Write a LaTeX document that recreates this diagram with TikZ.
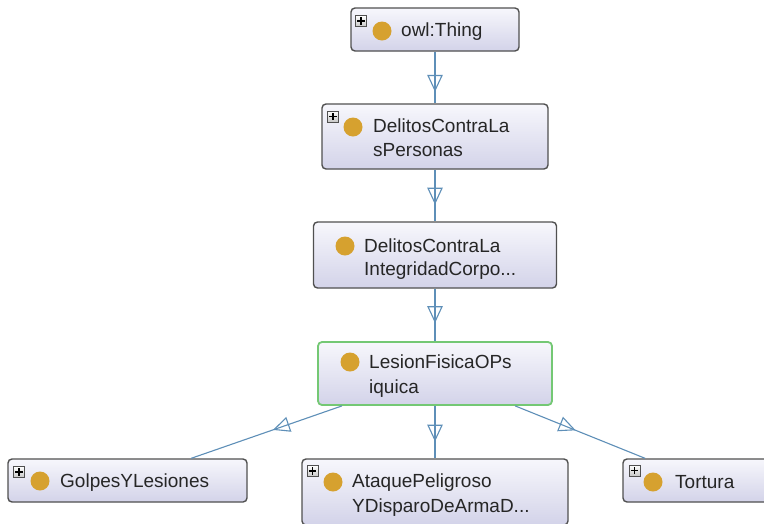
\documentclass[tikz,border=0pt]{standalone}
\usepackage{fontspec}
\setmainfont{Liberation Sans}
\usetikzlibrary{decorations.markings}

\definecolor{edgeblue}{HTML}{5E8FB8}
\definecolor{boxline}{HTML}{505050}
\definecolor{boxtop}{HTML}{F7F7FC}
\definecolor{boxbot}{HTML}{D3D3E9}
\definecolor{selgreen}{HTML}{74C874}
\definecolor{dotgold}{HTML}{D6A12F}
\definecolor{labelgray}{HTML}{262626}

\tikzset{
  classbox/.style={draw=boxline, line width=1.4pt, rounded corners=4pt,
    top color=boxtop, bottom color=boxbot, inner sep=0pt},
  selected/.style={draw=selgreen, line width=1.8pt},
  classdot/.style={circle, fill=dotgold, minimum size=19pt, inner sep=0pt},
  classlabel/.style={anchor=base west, inner sep=0pt,
    font=\fontsize{19}{24}\selectfont, text=labelgray},
  expander/.style={draw=boxline, line width=0.7pt, top color=white,
    bottom color=black!22, minimum size=11pt, inner sep=0pt,
    path picture={
      \draw[line width=1.3pt, black]
        ([xshift=-3.6pt]path picture bounding box.center) --
        ([xshift=3.6pt]path picture bounding box.center);
      \draw[line width=1.3pt, black]
        ([yshift=-3.6pt]path picture bounding box.center) --
        ([yshift=3.6pt]path picture bounding box.center);
    }},
  subedge/.style={draw=edgeblue, line width=1.1pt},
  % open triangle centred on the middle of a centre-to-centre path
  subtip/.style={postaction={decorate}, decoration={markings,
    mark=at position 0.5 with {
      \draw[edgeblue, line width=1.1pt, line join=miter]
        (7.5pt,0pt) -- (-7.5pt,7pt) -- (-7.5pt,-7pt) -- cycle;}}},
}

\begin{document}
\begin{tikzpicture}[x=1pt, y=-1pt]
  \path[use as bounding box] (0,0) rectangle (764,523);
  \clip (0,0) rectangle (764,523);
  \fill[white] (0,0) rectangle (764,523);

  % class boxes
  \node[classbox, minimum width=168pt, minimum height=43pt] (thing) at (435,29.5) {};
  \node[classbox, minimum width=226pt, minimum height=65pt] (personas) at (435,136.5) {};
  \node[classbox, minimum width=243pt, minimum height=66pt] (integridad) at (435,255) {};
  \node[classbox, selected, minimum width=234pt, minimum height=63pt] (lesion) at (435,373.5) {};
  \node[classbox, minimum width=239pt, minimum height=43pt] (golpes) at (127.5,480.5) {};
  \node[classbox, minimum width=266pt, minimum height=66pt] (ataque) at (435,492) {};
  \node[classbox, minimum width=154pt, minimum height=43pt] (tortura) at (700,480.5) {};

  % expand markers
  \node[expander] (xthing) at (361,21) {};
  \node[expander] (xpersonas) at (333,116.5) {};
  \node[expander] (xgolpes) at (19,472) {};
  \node[expander] (xataque) at (312.5,471) {};
  \node[expander] (xtortura) at (634.5,470.5) {};

  % class icons
  \node[classdot] (dthing) at (382,31) {};
  \node[classdot] (dpersonas) at (353,127) {};
  \node[classdot] (dintegridad) at (345,246) {};
  \node[classdot] (dlesion) at (350,362) {};
  \node[classdot] (dgolpes) at (40,481) {};
  \node[classdot] (dataque) at (333,482) {};
  \node[classdot] (dtortura) at (653,482) {};

  % labels
  \node[classlabel] (lthing) at (401,36) {owl:Thing};
  \node[classlabel] (lpersonasA) at (373,132) {DelitosContraLa};
  \node[classlabel] (lpersonasB) at (373,156) {sPersonas};
  \node[classlabel] (lintegridadA) at (364,252) {DelitosContraLa};
  \node[classlabel] (lintegridadB) at (364,275.5) {IntegridadCorpo...};
  \node[classlabel] (llesionA) at (369,368) {LesionFisicaOPs};
  \node[classlabel] (llesionB) at (369,393) {iquica};
  \node[classlabel] (lgolpes) at (60,487) {GolpesYLesiones};
  \node[classlabel] (lataqueA) at (352,487) {AtaquePeligroso};
  \node[classlabel] (lataqueB) at (352,512) {YDisparoDeArmaD...};
  \node[classlabel] (ltortura) at (675,488) {Tortura};

  % subclass connectors
  \foreach \p/\c in {thing/personas, personas/integridad, integridad/lesion,
                     lesion/golpes, lesion/ataque, lesion/tortura} {
    \path[subedge] (\p) -- (\c);
    \path[subtip] (\p.center) -- (\c.center);
  }
\end{tikzpicture}
\end{document}
